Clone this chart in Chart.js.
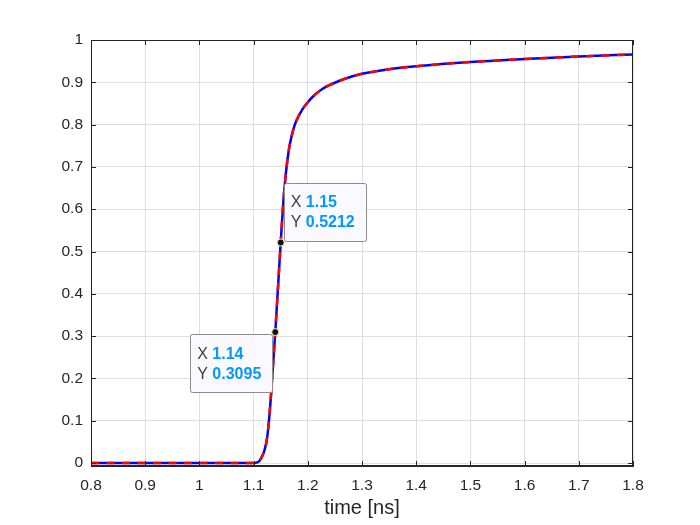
<!DOCTYPE html>
<html>
<head>
<meta charset="utf-8">
<script src="https://cdn.jsdelivr.net/npm/chart.js@4.4.1/dist/chart.umd.min.js"></script>
<style>
  html, body { margin: 0; padding: 0; background: #fff; }
  #wrap { width: 700px; height: 525px; }
</style>
</head>
<body>
<div id="wrap"><canvas id="myChart" width="700" height="525"></canvas></div>
<script>
// step response
var timeNs = [0.8, 1.0, 1.1, 1.105, 1.11, 1.115, 1.12, 1.125, 1.13, 1.135, 1.14, 1.145, 1.15,
              1.155, 1.16, 1.165, 1.17, 1.175, 1.18, 1.19, 1.2, 1.21, 1.22, 1.23, 1.25, 1.27,
              1.3, 1.35, 1.4, 1.5, 1.6, 1.7, 1.8];
var response = [0, 0, 0, 0.001, 0.004, 0.014, 0.03, 0.06, 0.125, 0.215, 0.3095, 0.415, 0.5212,
                0.62, 0.69, 0.74, 0.772, 0.796, 0.812, 0.836, 0.853, 0.867, 0.878, 0.887, 0.899, 0.909,
                0.92, 0.931, 0.938, 0.948, 0.955, 0.961, 0.966];
var xTicks = [0.8, 0.9, 1, 1.1, 1.2, 1.3, 1.4, 1.5, 1.6, 1.7, 1.8];
var yTicks = [0, 0.1, 0.2, 0.3, 0.4, 0.5, 0.6, 0.7, 0.8, 0.9, 1];
var tipX = [1.14, 1.15];
var tipY = [0.3095, 0.5212];

var points = timeNs.map(function (t, i) { return { x: t, y: response[i] }; });

var axisColor = '#262626';
var fontFam = '"Liberation Sans", Arial, Helvetica, sans-serif';

// box + inward tick marks, MATLAB style
var boxPlugin = {
  id: 'boxPlugin',
  afterDatasetsDraw: function (chart) {
    var c = chart.ctx, a = chart.chartArea;
    var xs = chart.scales.x, ys = chart.scales.y;
    c.save();
    c.strokeStyle = axisColor;
    c.lineWidth = 1;
    c.beginPath();
    xTicks.forEach(function (v) {
      var px = Math.round(xs.getPixelForValue(v)) + 0.5;
      c.moveTo(px, a.bottom); c.lineTo(px, a.bottom - 5);
      c.moveTo(px, a.top); c.lineTo(px, a.top + 5);
    });
    yTicks.forEach(function (v) {
      var py = Math.round(ys.getPixelForValue(v)) + 0.5;
      c.moveTo(a.left, py); c.lineTo(a.left + 5, py);
      c.moveTo(a.right, py); c.lineTo(a.right - 5, py);
    });
    c.stroke();
    c.strokeRect(a.left + 0.5, a.top + 0.5, a.right - a.left - 1, a.bottom - a.top - 1);
    c.restore();
  }
};

// data tips
var tipPlugin = {
  id: 'tipPlugin',
  afterDraw: function (chart, args, opts) {
    var c = chart.ctx;
    var xs = chart.scales.x, ys = chart.scales.y;
    tipX.forEach(function (tx, i) {
      var px = xs.getPixelForValue(tx), py = ys.getPixelForValue(tipY[i]);
      var rows = [['X ', String(tx)], ['Y ', String(tipY[i])]];
      c.save();
      c.textBaseline = 'middle';
      var w = 0;
      rows.forEach(function (r) {
        c.font = '16px ' + fontFam;
        var w1 = c.measureText(r[0]).width;
        c.font = 'bold 16px ' + fontFam;
        w = Math.max(w, w1 + c.measureText(r[1]).width);
      });
      var bw = w + 18, bh = 58;
      var bx, by;
      if (opts.place[i] === 'ur') { bx = px + 3; by = py - 60; }
      else { bx = px - 3 - bw; by = py + 2; }
      c.fillStyle = '#f9f9ff';
      c.strokeStyle = '#8a8a8a';
      c.lineWidth = 1;
      c.beginPath();
      c.roundRect(Math.round(bx) + 0.5, Math.round(by) + 0.5, bw, bh, 2);
      c.fill(); c.stroke();
      rows.forEach(function (r, k) {
        var ty = by + 20 + k * 20;
        c.font = '16px ' + fontFam;
        c.fillStyle = '#404040';
        c.fillText(r[0], bx + 7, ty);
        var w1 = c.measureText(r[0]).width;
        c.font = 'bold 16px ' + fontFam;
        c.fillStyle = '#0099ff';
        c.fillText(r[1], bx + 7 + w1, ty);
      });
      c.beginPath();
      c.arc(px, py, 3.5, 0, Math.PI * 2);
      c.fillStyle = '#111';
      c.fill();
      c.strokeStyle = '#f0f0a0';
      c.lineWidth = 1;
      c.stroke();
      c.restore();
    });
  }
};

var ctx = document.getElementById('myChart');

var myChart = new Chart(ctx, {
  type: 'line',
  data: {
    datasets: [{
      data: points,
      borderColor: '#ff0000',
      borderWidth: 2.5,
      borderDash: [8, 7.5],
      pointRadius: 0,
      cubicInterpolationMode: 'monotone',
      order: 0
    }, {
      data: points,
      borderColor: '#0000ff',
      borderWidth: 2.5,
      pointRadius: 0,
      cubicInterpolationMode: 'monotone',
      order: 1
    }]
  },
  options: {
    responsive: false,
    animation: false,
    layout: { padding: { left: 0, top: 40, right: 67, bottom: 0 } },
    plugins: {
      legend: { display: false },
      tooltip: { enabled: false },
      tipPlugin: { place: ['ll', 'ur'] }
    },
    scales: {
      x: {
        type: 'linear',
        min: 0.8,
        max: 1.8,
        afterBuildTicks: function (s) { s.ticks = xTicks.map(function (v) { return { value: v }; }); },
        afterFit: function (s) { s.height = 59; },
        ticks: {
          padding: 10,
          color: axisColor,
          font: { family: fontFam, size: 15.5 },
          maxRotation: 0,
          callback: function (v) { return String(Math.round(v * 10) / 10); }
        },
        grid: { color: '#dfdfdf', drawTicks: false },
        border: { display: true, color: axisColor },
        title: {
          display: true,
          text: 'time [ns]',
          color: axisColor,
          font: { family: fontFam, size: 20 },
          padding: { top: 0, bottom: 5 }
        }
      },
      y: {
        min: -0.007,
        max: 1,
        afterBuildTicks: function (s) { s.ticks = yTicks.map(function (v) { return { value: v }; }); },
        afterFit: function (s) { s.width = 91; },
        ticks: {
          padding: 8,
          color: axisColor,
          font: { family: fontFam, size: 15.5 },
          callback: function (v) { return String(Math.round(v * 10) / 10); }
        },
        grid: { color: '#dfdfdf', drawTicks: false },
        border: { display: true, color: axisColor }
      }
    }
  },
  plugins: [boxPlugin, tipPlugin]
});
</script>
</body>
</html>
